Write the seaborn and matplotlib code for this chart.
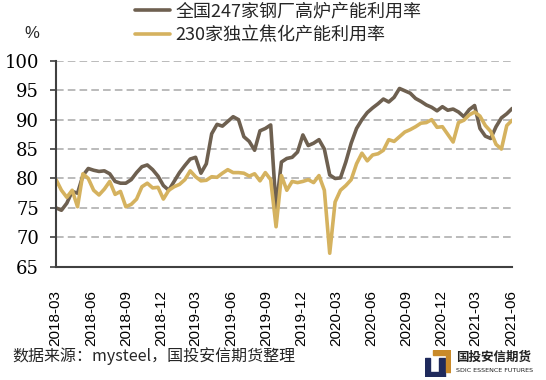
import pandas as pd
import matplotlib
matplotlib.use("Agg")
import matplotlib.pyplot as plt
import matplotlib.dates as mdates
import seaborn as sns
from matplotlib.patches import Polygon

# fortnightly points
dates = pd.date_range("2018-03-02", periods=86, freq="14D")
steel = [75.0, 74.6, 75.8, 77.8, 77.5, 80.5, 81.7, 81.4, 81.2, 81.3, 80.8, 79.5, 79.2, 79.2, 79.8, 81.0, 82.0, 82.3, 81.5, 80.4, 78.8, 78.0,
         79.5, 81.0, 82.2, 83.3, 83.6, 80.9, 82.5, 87.6, 89.2, 88.9, 89.7, 90.5, 90.0, 87.1, 86.3, 84.8, 88.1, 88.5, 89.1, 75.0,
         82.8, 83.4, 83.6, 84.5, 87.4, 85.6, 86.0, 86.6, 85.0, 80.6, 80.0, 80.1, 82.8, 86.0, 88.5, 90.0, 91.2, 92.0, 92.7, 93.5, 93.0, 93.8,
         95.3, 94.9, 94.5, 93.6, 93.1, 92.5, 92.1, 91.5, 92.2, 91.6, 91.8, 91.3, 90.5, 91.7, 92.4, 88.5, 87.2, 86.8, 88.8, 90.3, 91.0, 91.9]
coke = [79.8, 78.0, 76.8, 78.0, 75.2, 80.8, 80.0, 78.0, 77.2, 78.2, 79.5, 77.3, 77.8, 75.2, 75.6, 76.5, 78.6, 79.2, 78.4, 78.5, 76.5, 78.0,
        78.6, 79.0, 79.8, 81.3, 80.3, 79.6, 79.7, 80.3, 80.2, 80.9, 81.5, 81.0, 81.0, 80.9, 80.4, 80.8, 79.6, 81.0, 79.8, 71.8,
        80.5, 78.0, 79.5, 79.3, 79.5, 79.8, 79.3, 80.5, 78.0, 67.3, 76.0, 78.0, 78.8, 79.8, 82.5, 84.3, 83.0, 84.0, 84.2, 84.8, 86.6, 86.3,
        87.1, 87.9, 88.3, 88.8, 89.4, 89.5, 90.0, 88.7, 88.8, 87.5, 86.2, 89.5, 89.9, 90.8, 91.3, 90.6, 89.0, 88.0, 85.8, 85.0, 89.0, 89.9]

steel_name = "全国247家钢厂高炉产能利用率"
coke_name = "230家独立焦化产能利用率"
x_ticks = pd.date_range("2018-03-01", "2021-06-01", freq="3MS")
y_ticks = [65, 70, 75, 80, 85, 90, 95, 100]

sns.set_theme(style="white")
plt.rcParams["font.family"] = ["Noto Sans CJK SC", "DejaVu Sans"]

df = pd.DataFrame({"date": dates, steel_name: steel, coke_name: coke})

fig = plt.figure(figsize=(5.46, 3.8), dpi=100)
ax = fig.add_axes([0.102, 0.298, 0.836, 0.542])

sns.lineplot(data=df, x="date", y=steel_name, color="#6E6050", lw=2.6, ax=ax, label=steel_name)
sns.lineplot(data=df, x="date", y=coke_name, color="#D5B25F", lw=2.6, ax=ax, label=coke_name)

ax.set_ylim(65, 100)
ax.set_xlim(dates[0], dates[-1])
ax.set_yticks(y_ticks)
ax.set_xticks(x_ticks)
ax.xaxis.set_major_formatter(mdates.DateFormatter("%Y-%m"))
for y in y_ticks[1:]:
    ax.axhline(y, color="#A8A8A8", lw=1.1, ls=(0, (5, 2.7)), zorder=0)

ax.set_xlabel("")
ax.set_ylabel("")
for s in ["top", "right"]:
    ax.spines[s].set_visible(False)
ax.spines["left"].set_color("#404040")
ax.spines["left"].set_linewidth(1.5)
ax.spines["bottom"].set_color("#404040")
ax.spines["bottom"].set_linewidth(1.5)

ax.tick_params(axis="y", left=True, length=4, width=1.2, color="#404040", pad=8)
ax.tick_params(axis="x", bottom=False, pad=11)
for t in ax.get_yticklabels():
    t.set_fontfamily("DejaVu Serif")
    t.set_fontsize(13)
    t.set_color("black")
for t in ax.get_xticklabels():
    t.set_fontfamily("Liberation Sans")
    t.set_fontsize(11)
    t.set_rotation(90)
    t.set_color("black")
    t.set_ha("center")

handles, labels = ax.get_legend_handles_labels()
ax.get_legend().remove()
fig.legend(handles, labels, loc="upper left", bbox_to_anchor=(0.248, 0.995), frameon=False,
           fontsize=13, handlelength=1.9, handletextpad=0.3, labelspacing=0.35,
           borderpad=0, borderaxespad=0)

fig.text(32 / 546, 1 - 33 / 380, "%", fontsize=12, ha="center", va="center",
         family="Liberation Sans")
fig.text(12 / 546, 1 - 356 / 380, "数据来源：mysteel，国投安信期货整理", fontsize=11.5,
         ha="left", va="center")

# logo
logo = fig.add_axes([425 / 546, 1 - 377 / 380, 26 / 546, 27 / 380])
logo.set_xlim(0, 1)
logo.set_ylim(0, 1)
logo.axis("off")
logo.add_patch(Polygon([[0, 0], [0.75, 0], [0.75, 0.72], [0.55, 0.72], [0.55, 0.2], [0.2, 0.2], [0.2, 0.72], [0, 0.72]],
                       closed=True, color="#1F2A5C"))
logo.add_patch(Polygon([[0.32, 1.0], [1.0, 1.0], [1.0, 0.2], [0.82, 0.2], [0.82, 0.8], [0.32, 0.8]],
                       closed=True, color="#C98A2A"))
fig.text(456 / 546, 1 - 357 / 380, "国投安信期货", fontsize=9, fontweight="bold", ha="left", va="center",
         color="#222222")
fig.text(456 / 546, 1 - 370 / 380, "SDIC ESSENCE FUTURES", fontsize=4.6, ha="left", va="center",
         color="#222222", family="Liberation Sans Narrow")

fig.savefig("out.png", dpi=100)
